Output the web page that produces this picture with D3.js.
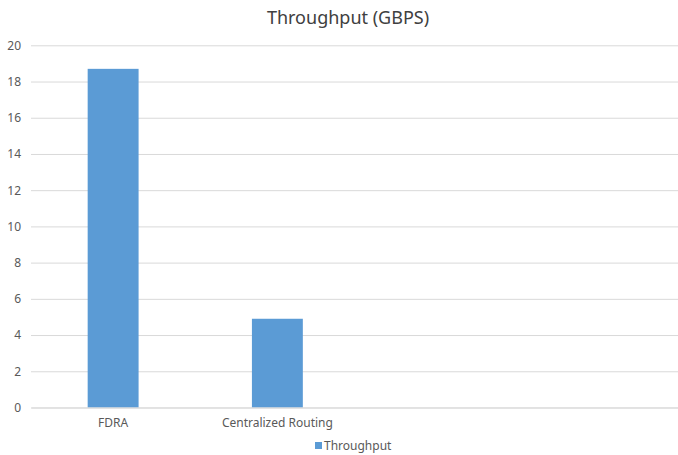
<!DOCTYPE html>
<html>
<head>
<meta charset="utf-8">
<script src="https://cdn.jsdelivr.net/npm/d3@7"></script>
<style>
  html, body { margin: 0; padding: 0; background: #fff; }
  svg { display: block; font-family: "Noto Sans", "Open Sans", sans-serif; }
</style>
</head>
<body>
<svg id="chart" width="678" height="455"></svg>
<script>
// Throughput per routing scheme (two empty category slots follow the data)
const categories = ["FDRA", "Centralized Routing", "", " "];
const throughput = [18.7, 4.9, null, null];
const yTicks = [0, 2, 4, 6, 8, 10, 12, 14, 16, 18, 20];
const seriesName = "Throughput";
const chartTitle = "Throughput (GBPS)";

const svg = d3.select("#chart");
const plot = { left: 31, right: 688, top: 45.3, bottom: 407.5 };

const x = d3.scaleBand()
  .domain(categories)
  .range([plot.left, plot.right])
  .paddingInner(0.69)
  .paddingOuter(0.345);

const y = d3.scaleLinear()
  .domain([0, 20])
  .range([plot.bottom, plot.top]);

// Title
svg.append("text")
  .attr("x", 348)
  .attr("y", 24)
  .attr("text-anchor", "middle")
  .attr("font-size", 18)
  .attr("fill", "#404040")
  .text(chartTitle);

// Horizontal gridlines with value labels
const yAxis = d3.axisLeft(y)
  .tickValues(yTicks)
  .tickSize(-(plot.right - plot.left))
  .tickPadding(10)
  .tickFormat(d3.format("d"));

const gy = svg.append("g")
  .attr("transform", `translate(${plot.left},0)`)
  .call(yAxis);
gy.select(".domain").remove();
gy.selectAll(".tick line").attr("stroke", "#d9d9d9").attr("stroke-width", 1);
gy.selectAll(".tick text")
  .attr("font-size", 12)
  .attr("fill", "#595959")
  .attr("font-family", "\"Noto Sans\", sans-serif");

// Bars
const data = categories.map((c, i) => ({ c, v: throughput[i] })).filter(d => d.v != null);
svg.append("g")
  .selectAll("rect")
  .data(data)
  .join("rect")
  .attr("x", d => x(d.c))
  .attr("width", x.bandwidth())
  .attr("y", d => y(d.v))
  .attr("height", d => y(0) - y(d.v))
  .attr("fill", "#5b9bd5");

// Category axis
const xAxis = d3.axisBottom(x).tickSize(0).tickPadding(10.5);
const gx = svg.append("g")
  .attr("transform", `translate(0,${plot.bottom})`)
  .call(xAxis);
gx.select(".domain").attr("stroke", "#d9d9d9");
gx.selectAll(".tick text")
  .attr("font-size", 12)
  .attr("fill", "#595959")
  .attr("font-family", "\"Noto Sans\", sans-serif");

// Legend
const lg = svg.append("g").attr("transform", "translate(315,450)");
lg.append("rect")
  .attr("x", 0).attr("y", -8)
  .attr("width", 7).attr("height", 7)
  .attr("fill", "#5b9bd5");
lg.append("text")
  .attr("x", 9).attr("y", 0)
  .attr("font-size", 12)
  .attr("fill", "#595959")
  .text(seriesName);
</script>
</body>
</html>
